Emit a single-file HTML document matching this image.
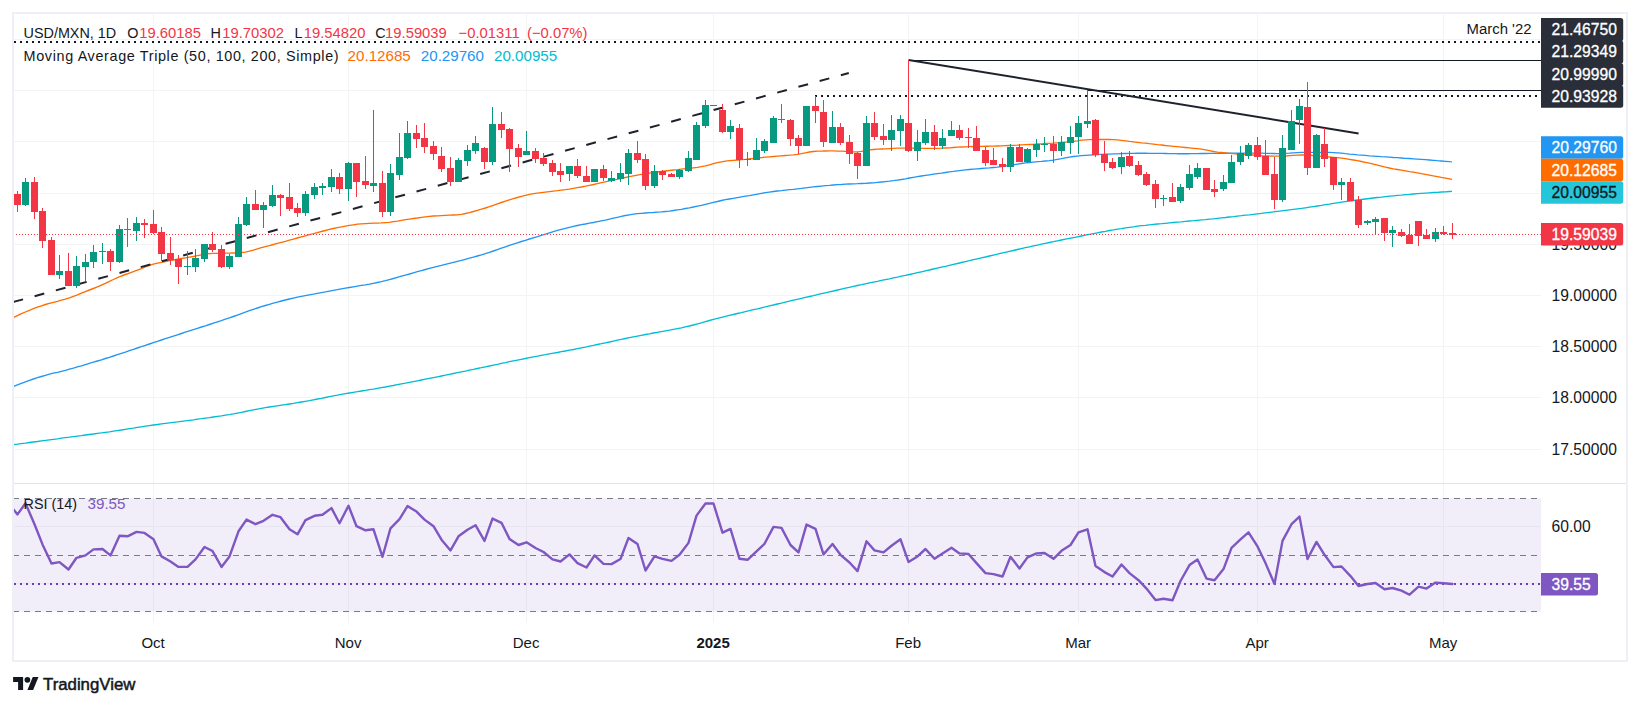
<!DOCTYPE html>
<html><head><meta charset="utf-8"><title>USD/MXN chart</title>
<style>
html,body{margin:0;padding:0;background:#fff;}
body{width:1640px;height:707px;overflow:hidden;}
svg{display:block;font-family:"Liberation Sans", "DejaVu Sans", sans-serif;}
</style></head><body>
<svg width="1640" height="707" viewBox="0 0 1640 707">
<g shape-rendering="crispEdges" stroke="#F3F5F5" stroke-width="1">
<line x1="153.5" y1="13" x2="153.5" y2="483"/>
<line x1="153.5" y1="484" x2="153.5" y2="623"/>
<line x1="348.5" y1="13" x2="348.5" y2="483"/>
<line x1="348.5" y1="484" x2="348.5" y2="623"/>
<line x1="526.5" y1="13" x2="526.5" y2="483"/>
<line x1="526.5" y1="484" x2="526.5" y2="623"/>
<line x1="713.5" y1="13" x2="713.5" y2="483"/>
<line x1="713.5" y1="484" x2="713.5" y2="623"/>
<line x1="908.5" y1="13" x2="908.5" y2="483"/>
<line x1="908.5" y1="484" x2="908.5" y2="623"/>
<line x1="1078.5" y1="13" x2="1078.5" y2="483"/>
<line x1="1078.5" y1="484" x2="1078.5" y2="623"/>
<line x1="1257.5" y1="13" x2="1257.5" y2="483"/>
<line x1="1257.5" y1="484" x2="1257.5" y2="623"/>
<line x1="1443.5" y1="13" x2="1443.5" y2="483"/>
<line x1="1443.5" y1="484" x2="1443.5" y2="623"/>
<line x1="13" y1="39.5" x2="1541" y2="39.5"/>
<line x1="13" y1="90.5" x2="1541" y2="90.5"/>
<line x1="13" y1="141.5" x2="1541" y2="141.5"/>
<line x1="13" y1="193.5" x2="1541" y2="193.5"/>
<line x1="13" y1="244.5" x2="1541" y2="244.5"/>
<line x1="13" y1="295.5" x2="1541" y2="295.5"/>
<line x1="13" y1="346.5" x2="1541" y2="346.5"/>
<line x1="13" y1="397.5" x2="1541" y2="397.5"/>
<line x1="13" y1="449.5" x2="1541" y2="449.5"/>
<line x1="13" y1="526.5" x2="1541" y2="526.5"/>
<line x1="13" y1="583.5" x2="1541" y2="583.5"/>
</g>
<rect x="13" y="498.5" width="1528" height="113" fill="#7E57C2" fill-opacity="0.1"/>
<g stroke="#787B86" stroke-width="1" stroke-dasharray="6,5" shape-rendering="crispEdges">
<line x1="13" y1="498.5" x2="1541" y2="498.5"/>
<line x1="13" y1="555.5" x2="1541" y2="555.5"/>
<line x1="13" y1="611.5" x2="1541" y2="611.5"/>
</g>
<line x1="14" y1="483.5" x2="1626" y2="483.5" stroke="#E0E3EB" stroke-width="1" shape-rendering="crispEdges"/>
<rect x="13" y="13" width="1614" height="648" fill="none" stroke="#EEF0F5" stroke-width="2" shape-rendering="crispEdges"/>
<defs><clipPath id="cp"><rect x="14" y="14" width="1527" height="469"/></clipPath><clipPath id="cr"><rect x="14" y="484" width="1527" height="139"/></clipPath></defs>
<g clip-path="url(#cp)">
<line x1="14" y1="42" x2="1541" y2="42" stroke="#131722" stroke-width="2" stroke-dasharray="2,4"/>
<line x1="815" y1="96" x2="1541" y2="96" stroke="#131722" stroke-width="2" stroke-dasharray="2,4"/>
<line x1="908.5" y1="60.5" x2="1541" y2="60.5" stroke="#131722" stroke-width="1" shape-rendering="crispEdges"/>
<line x1="1087.5" y1="90.5" x2="1541" y2="90.5" stroke="#131722" stroke-width="1" shape-rendering="crispEdges"/>
<path d="M13.4 444.7 L17.4 444.2 L21.4 443.6 L25.4 443.1 L29.4 442.5 L33.4 442.0 L37.4 441.5 L41.4 440.9 L45.4 440.4 L49.4 439.8 L53.4 439.3 L57.4 438.8 L61.4 438.2 L65.4 437.7 L69.4 437.2 L73.4 436.6 L77.4 436.1 L81.4 435.6 L85.4 435.0 L89.4 434.5 L93.4 434.0 L97.4 433.4 L101.4 432.9 L105.4 432.3 L109.4 431.8 L113.4 431.2 L117.4 430.6 L121.4 430.0 L125.4 429.3 L129.4 428.7 L133.4 428.1 L137.4 427.4 L141.4 426.8 L145.4 426.2 L149.4 425.6 L153.4 425.0 L157.4 424.5 L161.4 423.9 L165.4 423.4 L169.4 422.9 L173.4 422.4 L177.4 421.9 L181.4 421.3 L185.4 420.8 L189.4 420.3 L193.4 419.8 L197.4 419.2 L201.4 418.7 L205.4 418.1 L209.4 417.6 L213.4 417.0 L217.4 416.4 L221.4 415.9 L225.4 415.2 L229.4 414.6 L233.4 413.9 L237.4 413.1 L241.4 412.4 L245.4 411.5 L249.4 410.7 L253.4 409.9 L257.4 409.1 L261.4 408.4 L265.4 407.7 L269.4 407.0 L273.4 406.4 L277.4 405.8 L281.4 405.2 L285.4 404.6 L289.4 404.0 L293.4 403.4 L297.4 402.7 L301.4 402.0 L305.4 401.3 L309.4 400.6 L313.4 399.8 L317.4 399.0 L321.4 398.3 L325.4 397.5 L329.4 396.7 L333.4 395.9 L337.4 395.2 L341.4 394.4 L345.4 393.7 L349.4 393.0 L353.4 392.3 L357.4 391.7 L361.4 391.0 L365.4 390.4 L369.4 389.7 L373.4 389.1 L377.4 388.4 L381.4 387.7 L385.4 387.0 L389.4 386.2 L393.4 385.5 L397.4 384.7 L401.4 383.9 L405.4 383.2 L409.4 382.4 L413.4 381.6 L417.4 380.8 L421.4 380.0 L425.4 379.2 L429.4 378.4 L433.4 377.6 L437.4 376.8 L441.4 376.0 L445.4 375.2 L449.4 374.3 L453.4 373.5 L457.4 372.7 L461.4 371.9 L465.4 371.1 L469.4 370.2 L473.4 369.4 L477.4 368.5 L481.4 367.7 L485.4 366.8 L489.4 366.0 L493.4 365.1 L497.4 364.3 L501.4 363.4 L505.4 362.6 L509.4 361.7 L513.4 360.9 L517.4 360.1 L521.4 359.3 L525.4 358.5 L529.4 357.7 L533.4 356.9 L537.4 356.2 L541.4 355.4 L545.4 354.7 L549.4 353.9 L553.4 353.2 L557.4 352.5 L561.4 351.7 L565.4 351.0 L569.4 350.2 L573.4 349.5 L577.4 348.7 L581.4 347.9 L585.4 347.1 L589.4 346.2 L593.4 345.4 L597.4 344.5 L601.4 343.7 L605.4 342.8 L609.4 342.0 L613.4 341.1 L617.4 340.2 L621.4 339.4 L625.4 338.5 L629.4 337.7 L633.4 336.9 L637.4 336.1 L641.4 335.3 L645.4 334.5 L649.4 333.8 L653.4 333.0 L657.4 332.3 L661.4 331.6 L665.4 330.9 L669.4 330.2 L673.4 329.4 L677.4 328.6 L681.4 327.8 L685.4 326.9 L689.4 326.0 L693.4 325.0 L697.4 323.9 L701.4 322.8 L705.4 321.6 L709.4 320.5 L713.4 319.4 L717.4 318.4 L721.4 317.4 L725.4 316.4 L729.4 315.4 L733.4 314.5 L737.4 313.5 L741.4 312.6 L745.4 311.6 L749.4 310.7 L753.4 309.7 L757.4 308.8 L761.4 307.8 L765.4 306.9 L769.4 305.9 L773.4 305.0 L777.4 304.0 L781.4 303.1 L785.4 302.1 L789.4 301.2 L793.4 300.2 L797.4 299.3 L801.4 298.4 L805.4 297.4 L809.4 296.5 L813.4 295.6 L817.4 294.6 L821.4 293.7 L825.4 292.8 L829.4 291.9 L833.4 291.0 L837.4 290.0 L841.4 289.1 L845.4 288.2 L849.4 287.3 L853.4 286.4 L857.4 285.5 L861.4 284.7 L865.4 283.8 L869.4 282.9 L873.4 282.1 L877.4 281.3 L881.4 280.4 L885.4 279.6 L889.4 278.8 L893.4 277.9 L897.4 277.1 L901.4 276.2 L905.4 275.4 L909.4 274.5 L913.4 273.6 L917.4 272.7 L921.4 271.8 L925.4 270.9 L929.4 270.0 L933.4 269.0 L937.4 268.1 L941.4 267.2 L945.4 266.3 L949.4 265.3 L953.4 264.4 L957.4 263.5 L961.4 262.5 L965.4 261.6 L969.4 260.7 L973.4 259.7 L977.4 258.8 L981.4 257.9 L985.4 257.0 L989.4 256.0 L993.4 255.1 L997.4 254.2 L1001.4 253.2 L1005.4 252.3 L1009.4 251.4 L1013.4 250.5 L1017.4 249.5 L1021.4 248.6 L1025.4 247.7 L1029.4 246.8 L1033.4 245.9 L1037.4 245.1 L1041.4 244.2 L1045.4 243.3 L1049.4 242.5 L1053.4 241.7 L1057.4 240.8 L1061.4 240.0 L1065.4 239.2 L1069.4 238.4 L1073.4 237.6 L1077.4 236.8 L1081.4 236.0 L1085.4 235.2 L1089.4 234.4 L1093.4 233.6 L1097.4 232.8 L1101.4 232.0 L1105.4 231.3 L1109.4 230.5 L1113.4 229.9 L1117.4 229.2 L1121.4 228.6 L1125.4 227.9 L1129.4 227.3 L1133.4 226.8 L1137.4 226.2 L1141.4 225.7 L1145.4 225.3 L1149.4 224.8 L1153.4 224.4 L1157.4 224.0 L1161.4 223.7 L1165.4 223.3 L1169.4 222.9 L1173.4 222.5 L1177.4 222.1 L1181.4 221.8 L1185.4 221.4 L1189.4 221.0 L1193.4 220.7 L1197.4 220.3 L1201.4 219.9 L1205.4 219.6 L1209.4 219.2 L1213.4 218.8 L1217.4 218.3 L1221.4 217.9 L1225.4 217.5 L1229.4 217.0 L1233.4 216.6 L1237.4 216.1 L1241.4 215.7 L1245.4 215.2 L1249.4 214.8 L1253.4 214.3 L1257.4 213.8 L1261.4 213.4 L1265.4 212.9 L1269.4 212.4 L1273.4 211.9 L1277.4 211.4 L1281.4 210.9 L1285.4 210.4 L1289.4 209.9 L1293.4 209.4 L1297.4 208.9 L1301.4 208.4 L1305.4 207.8 L1309.4 207.2 L1313.4 206.6 L1317.4 206.0 L1321.4 205.4 L1325.4 204.7 L1329.4 204.1 L1333.4 203.4 L1337.4 202.8 L1341.4 202.2 L1345.4 201.6 L1349.4 201.0 L1353.4 200.5 L1357.4 200.0 L1361.4 199.5 L1365.4 199.0 L1369.4 198.5 L1373.4 198.0 L1377.4 197.5 L1381.4 197.1 L1385.4 196.6 L1389.4 196.2 L1393.4 195.8 L1397.4 195.4 L1401.4 195.1 L1405.4 194.7 L1409.4 194.4 L1413.4 194.0 L1417.4 193.7 L1421.4 193.4 L1425.4 193.1 L1429.4 192.8 L1433.4 192.5 L1437.4 192.3 L1441.4 192.0 L1445.4 191.8 L1449.4 191.5 L1452.0 191.4" fill="none" stroke="#00BCD4" stroke-width="1.35" stroke-linejoin="round"/>
<path d="M13.4 386.5 L17.4 384.9 L21.4 383.3 L25.4 381.8 L29.4 380.4 L33.4 379.0 L37.4 377.7 L41.4 376.5 L45.4 375.3 L49.4 374.2 L53.4 373.2 L57.4 372.3 L61.4 371.3 L65.4 370.3 L69.4 369.2 L73.4 368.1 L77.4 366.9 L81.4 365.8 L85.4 364.6 L89.4 363.4 L93.4 362.2 L97.4 361.0 L101.4 359.8 L105.4 358.5 L109.4 357.3 L113.4 356.0 L117.4 354.7 L121.4 353.4 L125.4 352.1 L129.4 350.7 L133.4 349.4 L137.4 348.0 L141.4 346.7 L145.4 345.3 L149.4 344.0 L153.4 342.7 L157.4 341.4 L161.4 340.0 L165.4 338.7 L169.4 337.4 L173.4 336.1 L177.4 334.8 L181.4 333.5 L185.4 332.2 L189.4 330.9 L193.4 329.6 L197.4 328.3 L201.4 327.0 L205.4 325.8 L209.4 324.5 L213.4 323.2 L217.4 321.9 L221.4 320.6 L225.4 319.2 L229.4 317.9 L233.4 316.5 L237.4 315.1 L241.4 313.6 L245.4 312.2 L249.4 310.7 L253.4 309.3 L257.4 308.0 L261.4 306.7 L265.4 305.5 L269.4 304.3 L273.4 303.2 L277.4 302.1 L281.4 301.0 L285.4 300.0 L289.4 299.0 L293.4 298.1 L297.4 297.2 L301.4 296.4 L305.4 295.6 L309.4 294.8 L313.4 294.1 L317.4 293.3 L321.4 292.6 L325.4 291.9 L329.4 291.1 L333.4 290.4 L337.4 289.7 L341.4 288.9 L345.4 288.2 L349.4 287.5 L353.4 286.8 L357.4 286.1 L361.4 285.4 L365.4 284.8 L369.4 284.1 L373.4 283.3 L377.4 282.5 L381.4 281.7 L385.4 280.7 L389.4 279.6 L393.4 278.5 L397.4 277.3 L401.4 276.2 L405.4 275.1 L409.4 274.0 L413.4 272.8 L417.4 271.7 L421.4 270.6 L425.4 269.5 L429.4 268.4 L433.4 267.3 L437.4 266.3 L441.4 265.4 L445.4 264.4 L449.4 263.4 L453.4 262.4 L457.4 261.4 L461.4 260.4 L465.4 259.3 L469.4 258.2 L473.4 257.2 L477.4 256.0 L481.4 254.9 L485.4 253.7 L489.4 252.4 L493.4 251.0 L497.4 249.6 L501.4 248.2 L505.4 246.8 L509.4 245.4 L513.4 244.1 L517.4 242.8 L521.4 241.5 L525.4 240.3 L529.4 239.0 L533.4 237.8 L537.4 236.6 L541.4 235.3 L545.4 234.1 L549.4 232.8 L553.4 231.6 L557.4 230.4 L561.4 229.3 L565.4 228.3 L569.4 227.3 L573.4 226.4 L577.4 225.5 L581.4 224.7 L585.4 224.0 L589.4 223.2 L593.4 222.5 L597.4 221.7 L601.4 220.9 L605.4 220.1 L609.4 219.2 L613.4 218.2 L617.4 217.3 L621.4 216.4 L625.4 215.5 L629.4 214.8 L633.4 214.2 L637.4 213.7 L641.4 213.3 L645.4 213.0 L649.4 212.7 L653.4 212.5 L657.4 212.2 L661.4 211.9 L665.4 211.5 L669.4 211.1 L673.4 210.5 L677.4 209.9 L681.4 209.3 L685.4 208.5 L689.4 207.8 L693.4 207.0 L697.4 206.2 L701.4 205.4 L705.4 204.4 L709.4 203.4 L713.4 202.4 L717.4 201.5 L721.4 200.5 L725.4 199.7 L729.4 199.0 L733.4 198.3 L737.4 197.6 L741.4 196.9 L745.4 196.2 L749.4 195.6 L753.4 194.8 L757.4 194.1 L761.4 193.4 L765.4 192.7 L769.4 192.1 L773.4 191.5 L777.4 191.0 L781.4 190.6 L785.4 190.1 L789.4 189.7 L793.4 189.3 L797.4 188.8 L801.4 188.4 L805.4 187.9 L809.4 187.4 L813.4 186.9 L817.4 186.5 L821.4 186.1 L825.4 185.7 L829.4 185.4 L833.4 185.0 L837.4 184.7 L841.4 184.5 L845.4 184.2 L849.4 184.0 L853.4 183.8 L857.4 183.7 L861.4 183.5 L865.4 183.3 L869.4 183.0 L873.4 182.8 L877.4 182.4 L881.4 182.0 L885.4 181.6 L889.4 181.2 L893.4 180.7 L897.4 180.1 L901.4 179.5 L905.4 178.8 L909.4 178.0 L913.4 177.3 L917.4 176.6 L921.4 176.0 L925.4 175.4 L929.4 174.8 L933.4 174.2 L937.4 173.6 L941.4 173.1 L945.4 172.5 L949.4 171.9 L953.4 171.4 L957.4 170.8 L961.4 170.3 L965.4 169.9 L969.4 169.5 L973.4 169.1 L977.4 168.8 L981.4 168.5 L985.4 168.2 L989.4 167.9 L993.4 167.5 L997.4 167.1 L1001.4 166.6 L1005.4 166.1 L1009.4 165.4 L1013.4 164.8 L1017.4 164.1 L1021.4 163.5 L1025.4 162.9 L1029.4 162.5 L1033.4 162.1 L1037.4 161.7 L1041.4 161.4 L1045.4 161.0 L1049.4 160.6 L1053.4 160.1 L1057.4 159.4 L1061.4 158.7 L1065.4 157.9 L1069.4 157.2 L1073.4 156.5 L1077.4 156.1 L1081.4 155.7 L1085.4 155.4 L1089.4 155.1 L1093.4 154.8 L1097.4 154.6 L1101.4 154.4 L1105.4 154.2 L1109.4 154.1 L1113.4 153.9 L1117.4 153.8 L1121.4 153.6 L1125.4 153.5 L1129.4 153.4 L1133.4 153.3 L1137.4 153.2 L1141.4 153.2 L1145.4 153.2 L1149.4 153.3 L1153.4 153.3 L1157.4 153.4 L1161.4 153.4 L1165.4 153.5 L1169.4 153.6 L1173.4 153.6 L1177.4 153.7 L1181.4 153.7 L1185.4 153.7 L1189.4 153.7 L1193.4 153.6 L1197.4 153.6 L1201.4 153.5 L1205.4 153.5 L1209.4 153.4 L1213.4 153.3 L1217.4 153.3 L1221.4 153.2 L1225.4 153.2 L1229.4 153.2 L1233.4 153.2 L1237.4 153.1 L1241.4 153.1 L1245.4 153.1 L1249.4 153.1 L1253.4 153.1 L1257.4 153.1 L1261.4 153.2 L1265.4 153.3 L1269.4 153.4 L1273.4 153.5 L1277.4 153.6 L1281.4 153.6 L1285.4 153.4 L1289.4 153.2 L1293.4 152.9 L1297.4 152.6 L1301.4 152.4 L1305.4 152.4 L1309.4 152.4 L1313.4 152.4 L1317.4 152.4 L1321.4 152.4 L1325.4 152.4 L1329.4 152.4 L1333.4 152.6 L1337.4 152.9 L1341.4 153.2 L1345.4 153.7 L1349.4 154.1 L1353.4 154.4 L1357.4 154.8 L1361.4 155.1 L1365.4 155.4 L1369.4 155.8 L1373.4 156.1 L1377.4 156.4 L1381.4 156.7 L1385.4 156.9 L1389.4 157.2 L1393.4 157.5 L1397.4 157.7 L1401.4 158.0 L1405.4 158.3 L1409.4 158.5 L1413.4 158.8 L1417.4 159.1 L1421.4 159.4 L1425.4 159.7 L1429.4 160.0 L1433.4 160.3 L1437.4 160.7 L1441.4 161.0 L1445.4 161.3 L1449.4 161.7 L1452.0 161.9" fill="none" stroke="#2196F3" stroke-width="1.35" stroke-linejoin="round"/>
<path d="M13.4 317.5 L17.4 315.6 L21.4 313.7 L25.4 312.0 L29.4 310.3 L33.4 308.7 L37.4 307.2 L41.4 305.8 L45.4 304.5 L49.4 303.4 L53.4 302.3 L57.4 301.3 L61.4 300.2 L65.4 299.1 L69.4 297.8 L73.4 296.4 L77.4 294.9 L81.4 293.2 L85.4 291.6 L89.4 290.0 L93.4 288.5 L97.4 286.9 L101.4 285.1 L105.4 283.3 L109.4 281.4 L113.4 279.5 L117.4 277.7 L121.4 276.0 L125.4 274.5 L129.4 273.1 L133.4 271.7 L137.4 270.2 L141.4 268.7 L145.4 267.0 L149.4 265.4 L153.4 264.1 L157.4 263.1 L161.4 262.3 L165.4 261.5 L169.4 260.7 L173.4 260.0 L177.4 259.2 L181.4 258.5 L185.4 257.8 L189.4 257.1 L193.4 256.5 L197.4 255.7 L201.4 254.9 L205.4 254.1 L209.4 253.6 L213.4 253.4 L217.4 253.3 L221.4 253.2 L225.4 253.2 L229.4 253.1 L233.4 253.0 L237.4 252.9 L241.4 252.7 L245.4 252.1 L249.4 251.2 L253.4 250.1 L257.4 248.9 L261.4 247.7 L265.4 246.6 L269.4 245.6 L273.4 244.5 L277.4 243.4 L281.4 242.3 L285.4 241.3 L289.4 240.2 L293.4 239.1 L297.4 238.0 L301.4 236.9 L305.4 235.8 L309.4 234.7 L313.4 233.7 L317.4 232.6 L321.4 231.5 L325.4 230.5 L329.4 229.4 L333.4 228.5 L337.4 227.6 L341.4 226.9 L345.4 226.1 L349.4 225.4 L353.4 224.8 L357.4 224.2 L361.4 223.8 L365.4 223.6 L369.4 223.4 L373.4 223.2 L377.4 223.1 L381.4 222.9 L385.4 222.6 L389.4 222.3 L393.4 221.7 L397.4 221.1 L401.4 220.4 L405.4 219.7 L409.4 219.1 L413.4 218.5 L417.4 218.0 L421.4 217.4 L425.4 216.9 L429.4 216.4 L433.4 216.0 L437.4 215.8 L441.4 215.6 L445.4 215.4 L449.4 215.2 L453.4 215.0 L457.4 214.8 L461.4 214.3 L465.4 213.5 L469.4 212.6 L473.4 211.5 L477.4 210.3 L481.4 209.2 L485.4 208.0 L489.4 206.7 L493.4 205.3 L497.4 203.9 L501.4 202.5 L505.4 201.2 L509.4 199.9 L513.4 198.7 L517.4 197.5 L521.4 196.3 L525.4 195.3 L529.4 194.4 L533.4 193.7 L537.4 193.1 L541.4 192.6 L545.4 192.1 L549.4 191.6 L553.4 191.1 L557.4 190.7 L561.4 190.2 L565.4 189.7 L569.4 189.1 L573.4 188.4 L577.4 187.7 L581.4 187.0 L585.4 186.2 L589.4 185.3 L593.4 184.5 L597.4 183.6 L601.4 182.7 L605.4 181.8 L609.4 180.9 L613.4 180.1 L617.4 179.3 L621.4 178.4 L625.4 177.5 L629.4 176.7 L633.4 175.9 L637.4 175.1 L641.4 174.4 L645.4 173.7 L649.4 173.1 L653.4 172.5 L657.4 172.0 L661.4 171.5 L665.4 171.0 L669.4 170.5 L673.4 170.0 L677.4 169.6 L681.4 169.1 L685.4 168.7 L689.4 168.3 L693.4 167.8 L697.4 167.3 L701.4 166.7 L705.4 165.8 L709.4 164.8 L713.4 163.7 L717.4 162.7 L721.4 161.8 L725.4 161.2 L729.4 160.7 L733.4 160.3 L737.4 160.0 L741.4 159.6 L745.4 159.3 L749.4 158.9 L753.4 158.5 L757.4 158.0 L761.4 157.6 L765.4 157.2 L769.4 156.8 L773.4 156.5 L777.4 156.1 L781.4 155.8 L785.4 155.5 L789.4 155.2 L793.4 154.8 L797.4 154.3 L801.4 153.6 L805.4 152.8 L809.4 152.0 L813.4 151.5 L817.4 151.2 L821.4 151.1 L825.4 151.0 L829.4 150.9 L833.4 150.9 L837.4 151.1 L841.4 151.2 L845.4 151.4 L849.4 151.6 L853.4 151.8 L857.4 151.8 L861.4 151.4 L865.4 150.6 L869.4 149.9 L873.4 149.5 L877.4 149.2 L881.4 149.0 L885.4 148.8 L889.4 148.6 L893.4 148.4 L897.4 148.2 L901.4 148.1 L905.4 148.1 L909.4 148.1 L913.4 148.2 L917.4 148.2 L921.4 148.3 L925.4 148.4 L929.4 148.4 L933.4 148.4 L937.4 148.3 L941.4 148.2 L945.4 148.0 L949.4 147.8 L953.4 147.5 L957.4 147.2 L961.4 147.0 L965.4 146.8 L969.4 146.6 L973.4 146.5 L977.4 146.4 L981.4 146.3 L985.4 146.2 L989.4 146.2 L993.4 146.1 L997.4 146.0 L1001.4 145.9 L1005.4 145.7 L1009.4 145.5 L1013.4 145.4 L1017.4 145.2 L1021.4 144.9 L1025.4 144.7 L1029.4 144.5 L1033.4 144.3 L1037.4 144.0 L1041.4 143.8 L1045.4 143.5 L1049.4 143.3 L1053.4 143.1 L1057.4 142.8 L1061.4 142.5 L1065.4 142.2 L1069.4 141.9 L1073.4 141.3 L1077.4 140.8 L1081.4 140.2 L1085.4 139.9 L1089.4 139.6 L1093.4 139.5 L1097.4 139.5 L1101.4 139.5 L1105.4 139.5 L1109.4 139.5 L1113.4 139.6 L1117.4 139.9 L1121.4 140.4 L1125.4 140.9 L1129.4 141.4 L1133.4 141.8 L1137.4 142.3 L1141.4 142.8 L1145.4 143.2 L1149.4 143.7 L1153.4 144.1 L1157.4 144.6 L1161.4 145.0 L1165.4 145.5 L1169.4 145.9 L1173.4 146.3 L1177.4 146.7 L1181.4 147.1 L1185.4 147.5 L1189.4 147.9 L1193.4 148.3 L1197.4 148.7 L1201.4 149.2 L1205.4 149.9 L1209.4 150.7 L1213.4 151.5 L1217.4 152.1 L1221.4 152.5 L1225.4 152.9 L1229.4 153.3 L1233.4 153.7 L1237.4 154.0 L1241.4 154.3 L1245.4 154.6 L1249.4 154.8 L1253.4 155.0 L1257.4 155.3 L1261.4 155.6 L1265.4 155.8 L1269.4 156.0 L1273.4 156.1 L1277.4 156.2 L1281.4 156.1 L1285.4 156.0 L1289.4 155.7 L1293.4 155.4 L1297.4 155.2 L1301.4 155.0 L1305.4 155.0 L1309.4 155.2 L1313.4 155.5 L1317.4 155.8 L1321.4 156.3 L1325.4 156.7 L1329.4 157.0 L1333.4 157.3 L1337.4 157.7 L1341.4 158.1 L1345.4 158.6 L1349.4 159.3 L1353.4 160.0 L1357.4 160.7 L1361.4 161.5 L1365.4 162.3 L1369.4 163.2 L1373.4 164.1 L1377.4 165.1 L1381.4 166.1 L1385.4 167.1 L1389.4 168.0 L1393.4 168.8 L1397.4 169.5 L1401.4 170.2 L1405.4 170.9 L1409.4 171.6 L1413.4 172.2 L1417.4 172.9 L1421.4 173.7 L1425.4 174.4 L1429.4 175.1 L1433.4 175.9 L1437.4 176.6 L1441.4 177.4 L1445.4 178.1 L1449.4 178.9 L1452.0 179.4" fill="none" stroke="#FF6D00" stroke-width="1.35" stroke-linejoin="round"/>
<line x1="13.4" y1="302.0" x2="848.8" y2="73.0" stroke="#1E222D" stroke-width="2" stroke-dasharray="10,12"/>
<line x1="908.5" y1="60" x2="1358.6" y2="133.4" stroke="#1E222D" stroke-width="2"/>
<g shape-rendering="crispEdges">
<rect x="17" y="191" width="1" height="21" fill="#F23645"/>
<rect x="14" y="194" width="7" height="11" fill="#F23645"/>
<rect x="25" y="178" width="1" height="28" fill="#089981"/>
<rect x="22" y="182" width="7" height="23" fill="#089981"/>
<rect x="34" y="177" width="1" height="42" fill="#F23645"/>
<rect x="31" y="182" width="7" height="30" fill="#F23645"/>
<rect x="42" y="208" width="1" height="40" fill="#F23645"/>
<rect x="39" y="211" width="7" height="30" fill="#F23645"/>
<rect x="51" y="237" width="1" height="38" fill="#F23645"/>
<rect x="48" y="240" width="7" height="35" fill="#F23645"/>
<rect x="59" y="255" width="1" height="24" fill="#089981"/>
<rect x="56" y="271" width="7" height="4" fill="#089981"/>
<rect x="68" y="253" width="1" height="33" fill="#F23645"/>
<rect x="65" y="271" width="7" height="15" fill="#F23645"/>
<rect x="76" y="256" width="1" height="32" fill="#089981"/>
<rect x="73" y="266" width="7" height="20" fill="#089981"/>
<rect x="85" y="254" width="1" height="27" fill="#089981"/>
<rect x="82" y="262" width="7" height="5" fill="#089981"/>
<rect x="93" y="245" width="1" height="23" fill="#089981"/>
<rect x="90" y="252" width="7" height="10" fill="#089981"/>
<rect x="102" y="243" width="1" height="21" fill="#089981"/>
<rect x="99" y="251" width="7" height="1" fill="#089981"/>
<rect x="110" y="249" width="1" height="22" fill="#F23645"/>
<rect x="107" y="251" width="7" height="11" fill="#F23645"/>
<rect x="119" y="225" width="1" height="38" fill="#089981"/>
<rect x="116" y="229" width="7" height="33" fill="#089981"/>
<rect x="127" y="218" width="1" height="29" fill="#F23645"/>
<rect x="124" y="229" width="7" height="1" fill="#F23645"/>
<rect x="136" y="217" width="1" height="24" fill="#089981"/>
<rect x="133" y="223" width="7" height="8" fill="#089981"/>
<rect x="144" y="219" width="1" height="19" fill="#F23645"/>
<rect x="141" y="223" width="7" height="2" fill="#F23645"/>
<rect x="153" y="210" width="1" height="24" fill="#F23645"/>
<rect x="150" y="224" width="7" height="9" fill="#F23645"/>
<rect x="161" y="227" width="1" height="34" fill="#F23645"/>
<rect x="158" y="232" width="7" height="22" fill="#F23645"/>
<rect x="170" y="237" width="1" height="28" fill="#F23645"/>
<rect x="167" y="253" width="7" height="7" fill="#F23645"/>
<rect x="178" y="255" width="1" height="29" fill="#F23645"/>
<rect x="175" y="259" width="7" height="8" fill="#F23645"/>
<rect x="187" y="251" width="1" height="24" fill="#089981"/>
<rect x="184" y="266" width="7" height="1" fill="#089981"/>
<rect x="195" y="249" width="1" height="23" fill="#089981"/>
<rect x="192" y="258" width="7" height="9" fill="#089981"/>
<rect x="204" y="244" width="1" height="18" fill="#089981"/>
<rect x="201" y="244" width="7" height="15" fill="#089981"/>
<rect x="212" y="232" width="1" height="20" fill="#F23645"/>
<rect x="209" y="244" width="7" height="6" fill="#F23645"/>
<rect x="221" y="245" width="1" height="23" fill="#F23645"/>
<rect x="218" y="249" width="7" height="18" fill="#F23645"/>
<rect x="229" y="254" width="1" height="15" fill="#089981"/>
<rect x="226" y="256" width="7" height="11" fill="#089981"/>
<rect x="238" y="217" width="1" height="40" fill="#089981"/>
<rect x="235" y="224" width="7" height="33" fill="#089981"/>
<rect x="246" y="197" width="1" height="29" fill="#089981"/>
<rect x="243" y="204" width="7" height="21" fill="#089981"/>
<rect x="255" y="190" width="1" height="20" fill="#F23645"/>
<rect x="252" y="204" width="7" height="6" fill="#F23645"/>
<rect x="263" y="202" width="1" height="26" fill="#089981"/>
<rect x="260" y="205" width="7" height="5" fill="#089981"/>
<rect x="272" y="185" width="1" height="22" fill="#089981"/>
<rect x="269" y="195" width="7" height="11" fill="#089981"/>
<rect x="280" y="194" width="1" height="22" fill="#F23645"/>
<rect x="277" y="195" width="7" height="3" fill="#F23645"/>
<rect x="289" y="183" width="1" height="28" fill="#F23645"/>
<rect x="286" y="197" width="7" height="12" fill="#F23645"/>
<rect x="297" y="203" width="1" height="14" fill="#F23645"/>
<rect x="294" y="208" width="7" height="5" fill="#F23645"/>
<rect x="305" y="191" width="1" height="25" fill="#089981"/>
<rect x="302" y="194" width="7" height="19" fill="#089981"/>
<rect x="314" y="183" width="1" height="16" fill="#089981"/>
<rect x="311" y="187" width="7" height="8" fill="#089981"/>
<rect x="322" y="183" width="1" height="12" fill="#089981"/>
<rect x="319" y="186" width="7" height="2" fill="#089981"/>
<rect x="331" y="169" width="1" height="23" fill="#089981"/>
<rect x="328" y="177" width="7" height="10" fill="#089981"/>
<rect x="339" y="173" width="1" height="21" fill="#F23645"/>
<rect x="336" y="177" width="7" height="12" fill="#F23645"/>
<rect x="348" y="162" width="1" height="39" fill="#089981"/>
<rect x="345" y="163" width="7" height="26" fill="#089981"/>
<rect x="356" y="163" width="1" height="34" fill="#F23645"/>
<rect x="353" y="163" width="7" height="19" fill="#F23645"/>
<rect x="365" y="156" width="1" height="33" fill="#F23645"/>
<rect x="362" y="181" width="7" height="4" fill="#F23645"/>
<rect x="373" y="110" width="1" height="82" fill="#089981"/>
<rect x="370" y="183" width="7" height="3" fill="#089981"/>
<rect x="382" y="171" width="1" height="46" fill="#F23645"/>
<rect x="379" y="183" width="7" height="29" fill="#F23645"/>
<rect x="390" y="164" width="1" height="52" fill="#089981"/>
<rect x="387" y="173" width="7" height="39" fill="#089981"/>
<rect x="399" y="133" width="1" height="47" fill="#089981"/>
<rect x="396" y="157" width="7" height="18" fill="#089981"/>
<rect x="407" y="121" width="1" height="38" fill="#089981"/>
<rect x="404" y="133" width="7" height="25" fill="#089981"/>
<rect x="416" y="125" width="1" height="23" fill="#F23645"/>
<rect x="413" y="133" width="7" height="6" fill="#F23645"/>
<rect x="424" y="123" width="1" height="30" fill="#F23645"/>
<rect x="421" y="138" width="7" height="9" fill="#F23645"/>
<rect x="433" y="141" width="1" height="19" fill="#F23645"/>
<rect x="430" y="146" width="7" height="8" fill="#F23645"/>
<rect x="441" y="147" width="1" height="25" fill="#F23645"/>
<rect x="438" y="156" width="7" height="13" fill="#F23645"/>
<rect x="450" y="157" width="1" height="29" fill="#F23645"/>
<rect x="447" y="168" width="7" height="14" fill="#F23645"/>
<rect x="458" y="158" width="1" height="24" fill="#089981"/>
<rect x="455" y="160" width="7" height="22" fill="#089981"/>
<rect x="467" y="145" width="1" height="21" fill="#089981"/>
<rect x="464" y="150" width="7" height="11" fill="#089981"/>
<rect x="475" y="136" width="1" height="18" fill="#089981"/>
<rect x="472" y="143" width="7" height="8" fill="#089981"/>
<rect x="484" y="147" width="1" height="22" fill="#F23645"/>
<rect x="481" y="148" width="7" height="14" fill="#F23645"/>
<rect x="492" y="107" width="1" height="58" fill="#089981"/>
<rect x="489" y="124" width="7" height="38" fill="#089981"/>
<rect x="501" y="112" width="1" height="26" fill="#F23645"/>
<rect x="498" y="124" width="7" height="6" fill="#F23645"/>
<rect x="509" y="128" width="1" height="44" fill="#F23645"/>
<rect x="506" y="129" width="7" height="20" fill="#F23645"/>
<rect x="518" y="144" width="1" height="23" fill="#F23645"/>
<rect x="515" y="148" width="7" height="9" fill="#F23645"/>
<rect x="526" y="131" width="1" height="24" fill="#089981"/>
<rect x="523" y="151" width="7" height="4" fill="#089981"/>
<rect x="535" y="148" width="1" height="15" fill="#F23645"/>
<rect x="532" y="151" width="7" height="8" fill="#F23645"/>
<rect x="543" y="153" width="1" height="13" fill="#F23645"/>
<rect x="540" y="158" width="7" height="6" fill="#F23645"/>
<rect x="552" y="160" width="1" height="16" fill="#F23645"/>
<rect x="549" y="163" width="7" height="9" fill="#F23645"/>
<rect x="560" y="163" width="1" height="19" fill="#F23645"/>
<rect x="557" y="171" width="7" height="4" fill="#F23645"/>
<rect x="569" y="166" width="1" height="15" fill="#089981"/>
<rect x="566" y="166" width="7" height="8" fill="#089981"/>
<rect x="577" y="159" width="1" height="19" fill="#F23645"/>
<rect x="574" y="166" width="7" height="10" fill="#F23645"/>
<rect x="586" y="166" width="1" height="16" fill="#F23645"/>
<rect x="583" y="176" width="7" height="6" fill="#F23645"/>
<rect x="594" y="169" width="1" height="13" fill="#089981"/>
<rect x="591" y="169" width="7" height="13" fill="#089981"/>
<rect x="603" y="165" width="1" height="16" fill="#F23645"/>
<rect x="600" y="169" width="7" height="9" fill="#F23645"/>
<rect x="611" y="171" width="1" height="11" fill="#089981"/>
<rect x="608" y="178" width="7" height="3" fill="#089981"/>
<rect x="620" y="163" width="1" height="19" fill="#089981"/>
<rect x="617" y="173" width="7" height="6" fill="#089981"/>
<rect x="628" y="149" width="1" height="36" fill="#089981"/>
<rect x="625" y="153" width="7" height="21" fill="#089981"/>
<rect x="637" y="141" width="1" height="22" fill="#F23645"/>
<rect x="634" y="153" width="7" height="7" fill="#F23645"/>
<rect x="645" y="154" width="1" height="36" fill="#F23645"/>
<rect x="642" y="159" width="7" height="27" fill="#F23645"/>
<rect x="654" y="165" width="1" height="23" fill="#089981"/>
<rect x="651" y="171" width="7" height="15" fill="#089981"/>
<rect x="662" y="170" width="1" height="10" fill="#F23645"/>
<rect x="659" y="171" width="7" height="4" fill="#F23645"/>
<rect x="671" y="173" width="1" height="4" fill="#F23645"/>
<rect x="668" y="174" width="7" height="3" fill="#F23645"/>
<rect x="679" y="169" width="1" height="10" fill="#089981"/>
<rect x="676" y="170" width="7" height="7" fill="#089981"/>
<rect x="688" y="151" width="1" height="21" fill="#089981"/>
<rect x="685" y="158" width="7" height="13" fill="#089981"/>
<rect x="696" y="122" width="1" height="38" fill="#089981"/>
<rect x="693" y="125" width="7" height="35" fill="#089981"/>
<rect x="705" y="100" width="1" height="28" fill="#089981"/>
<rect x="702" y="105" width="7" height="21" fill="#089981"/>
<rect x="713" y="105" width="1" height="1" fill="#089981"/>
<rect x="710" y="105" width="7" height="1" fill="#089981"/>
<rect x="722" y="104" width="1" height="29" fill="#F23645"/>
<rect x="719" y="110" width="7" height="22" fill="#F23645"/>
<rect x="730" y="120" width="1" height="19" fill="#089981"/>
<rect x="727" y="126" width="7" height="6" fill="#089981"/>
<rect x="739" y="124" width="1" height="44" fill="#F23645"/>
<rect x="736" y="128" width="7" height="32" fill="#F23645"/>
<rect x="747" y="152" width="1" height="14" fill="#F23645"/>
<rect x="744" y="159" width="7" height="1" fill="#F23645"/>
<rect x="756" y="138" width="1" height="22" fill="#089981"/>
<rect x="753" y="150" width="7" height="10" fill="#089981"/>
<rect x="764" y="139" width="1" height="14" fill="#089981"/>
<rect x="761" y="141" width="7" height="10" fill="#089981"/>
<rect x="773" y="116" width="1" height="27" fill="#089981"/>
<rect x="770" y="118" width="7" height="25" fill="#089981"/>
<rect x="781" y="104" width="1" height="19" fill="#F23645"/>
<rect x="778" y="119" width="7" height="1" fill="#F23645"/>
<rect x="790" y="119" width="1" height="27" fill="#F23645"/>
<rect x="787" y="120" width="7" height="19" fill="#F23645"/>
<rect x="798" y="135" width="1" height="19" fill="#F23645"/>
<rect x="795" y="138" width="7" height="8" fill="#F23645"/>
<rect x="806" y="106" width="1" height="40" fill="#089981"/>
<rect x="803" y="106" width="7" height="40" fill="#089981"/>
<rect x="815" y="96" width="1" height="27" fill="#F23645"/>
<rect x="812" y="106" width="7" height="5" fill="#F23645"/>
<rect x="823" y="100" width="1" height="47" fill="#F23645"/>
<rect x="820" y="112" width="7" height="30" fill="#F23645"/>
<rect x="832" y="111" width="1" height="32" fill="#089981"/>
<rect x="829" y="127" width="7" height="16" fill="#089981"/>
<rect x="840" y="123" width="1" height="22" fill="#F23645"/>
<rect x="837" y="127" width="7" height="16" fill="#F23645"/>
<rect x="849" y="135" width="1" height="29" fill="#F23645"/>
<rect x="846" y="142" width="7" height="12" fill="#F23645"/>
<rect x="857" y="152" width="1" height="27" fill="#F23645"/>
<rect x="854" y="153" width="7" height="13" fill="#F23645"/>
<rect x="866" y="116" width="1" height="50" fill="#089981"/>
<rect x="863" y="123" width="7" height="43" fill="#089981"/>
<rect x="874" y="112" width="1" height="28" fill="#F23645"/>
<rect x="871" y="123" width="7" height="14" fill="#F23645"/>
<rect x="883" y="124" width="1" height="21" fill="#F23645"/>
<rect x="880" y="136" width="7" height="4" fill="#F23645"/>
<rect x="891" y="115" width="1" height="36" fill="#089981"/>
<rect x="888" y="130" width="7" height="10" fill="#089981"/>
<rect x="900" y="115" width="1" height="31" fill="#089981"/>
<rect x="897" y="119" width="7" height="12" fill="#089981"/>
<rect x="908" y="60" width="1" height="92" fill="#F23645"/>
<rect x="905" y="123" width="7" height="28" fill="#F23645"/>
<rect x="917" y="130" width="1" height="31" fill="#089981"/>
<rect x="914" y="142" width="7" height="9" fill="#089981"/>
<rect x="925" y="119" width="1" height="26" fill="#089981"/>
<rect x="922" y="132" width="7" height="11" fill="#089981"/>
<rect x="934" y="125" width="1" height="25" fill="#F23645"/>
<rect x="931" y="132" width="7" height="14" fill="#F23645"/>
<rect x="942" y="129" width="1" height="20" fill="#089981"/>
<rect x="939" y="138" width="7" height="8" fill="#089981"/>
<rect x="951" y="121" width="1" height="15" fill="#089981"/>
<rect x="948" y="130" width="7" height="6" fill="#089981"/>
<rect x="959" y="125" width="1" height="15" fill="#F23645"/>
<rect x="956" y="130" width="7" height="8" fill="#F23645"/>
<rect x="968" y="128" width="1" height="20" fill="#F23645"/>
<rect x="965" y="137" width="7" height="1" fill="#F23645"/>
<rect x="976" y="126" width="1" height="25" fill="#F23645"/>
<rect x="973" y="138" width="7" height="13" fill="#F23645"/>
<rect x="985" y="147" width="1" height="19" fill="#F23645"/>
<rect x="982" y="150" width="7" height="13" fill="#F23645"/>
<rect x="993" y="148" width="1" height="17" fill="#F23645"/>
<rect x="990" y="160" width="7" height="5" fill="#F23645"/>
<rect x="1002" y="158" width="1" height="14" fill="#F23645"/>
<rect x="999" y="164" width="7" height="3" fill="#F23645"/>
<rect x="1010" y="144" width="1" height="28" fill="#089981"/>
<rect x="1007" y="147" width="7" height="20" fill="#089981"/>
<rect x="1019" y="144" width="1" height="18" fill="#F23645"/>
<rect x="1016" y="147" width="7" height="15" fill="#F23645"/>
<rect x="1027" y="148" width="1" height="15" fill="#089981"/>
<rect x="1024" y="149" width="7" height="13" fill="#089981"/>
<rect x="1036" y="139" width="1" height="18" fill="#089981"/>
<rect x="1033" y="144" width="7" height="6" fill="#089981"/>
<rect x="1044" y="137" width="1" height="15" fill="#089981"/>
<rect x="1041" y="144" width="7" height="1" fill="#089981"/>
<rect x="1053" y="136" width="1" height="27" fill="#F23645"/>
<rect x="1050" y="144" width="7" height="7" fill="#F23645"/>
<rect x="1061" y="136" width="1" height="20" fill="#089981"/>
<rect x="1058" y="142" width="7" height="9" fill="#089981"/>
<rect x="1070" y="126" width="1" height="28" fill="#089981"/>
<rect x="1067" y="137" width="7" height="6" fill="#089981"/>
<rect x="1078" y="116" width="1" height="38" fill="#089981"/>
<rect x="1075" y="123" width="7" height="14" fill="#089981"/>
<rect x="1087" y="90" width="1" height="38" fill="#089981"/>
<rect x="1084" y="121" width="7" height="3" fill="#089981"/>
<rect x="1095" y="119" width="1" height="38" fill="#F23645"/>
<rect x="1092" y="120" width="7" height="35" fill="#F23645"/>
<rect x="1104" y="141" width="1" height="30" fill="#F23645"/>
<rect x="1101" y="154" width="7" height="9" fill="#F23645"/>
<rect x="1112" y="158" width="1" height="11" fill="#F23645"/>
<rect x="1109" y="162" width="7" height="6" fill="#F23645"/>
<rect x="1121" y="152" width="1" height="22" fill="#089981"/>
<rect x="1118" y="157" width="7" height="10" fill="#089981"/>
<rect x="1129" y="151" width="1" height="16" fill="#F23645"/>
<rect x="1126" y="156" width="7" height="10" fill="#F23645"/>
<rect x="1138" y="161" width="1" height="15" fill="#F23645"/>
<rect x="1135" y="165" width="7" height="10" fill="#F23645"/>
<rect x="1146" y="172" width="1" height="14" fill="#F23645"/>
<rect x="1143" y="174" width="7" height="11" fill="#F23645"/>
<rect x="1155" y="180" width="1" height="28" fill="#F23645"/>
<rect x="1152" y="184" width="7" height="15" fill="#F23645"/>
<rect x="1163" y="195" width="1" height="11" fill="#089981"/>
<rect x="1160" y="198" width="7" height="1" fill="#089981"/>
<rect x="1172" y="183" width="1" height="19" fill="#F23645"/>
<rect x="1169" y="197" width="7" height="5" fill="#F23645"/>
<rect x="1180" y="184" width="1" height="19" fill="#089981"/>
<rect x="1177" y="187" width="7" height="14" fill="#089981"/>
<rect x="1189" y="165" width="1" height="25" fill="#089981"/>
<rect x="1186" y="174" width="7" height="14" fill="#089981"/>
<rect x="1197" y="163" width="1" height="16" fill="#089981"/>
<rect x="1194" y="168" width="7" height="9" fill="#089981"/>
<rect x="1206" y="168" width="1" height="22" fill="#F23645"/>
<rect x="1203" y="168" width="7" height="22" fill="#F23645"/>
<rect x="1214" y="180" width="1" height="17" fill="#F23645"/>
<rect x="1211" y="189" width="7" height="3" fill="#F23645"/>
<rect x="1223" y="175" width="1" height="16" fill="#089981"/>
<rect x="1220" y="182" width="7" height="7" fill="#089981"/>
<rect x="1231" y="155" width="1" height="28" fill="#089981"/>
<rect x="1228" y="162" width="7" height="21" fill="#089981"/>
<rect x="1240" y="146" width="1" height="19" fill="#089981"/>
<rect x="1237" y="153" width="7" height="9" fill="#089981"/>
<rect x="1248" y="143" width="1" height="16" fill="#089981"/>
<rect x="1245" y="145" width="7" height="11" fill="#089981"/>
<rect x="1257" y="137" width="1" height="23" fill="#F23645"/>
<rect x="1254" y="145" width="7" height="12" fill="#F23645"/>
<rect x="1265" y="140" width="1" height="35" fill="#F23645"/>
<rect x="1262" y="156" width="7" height="19" fill="#F23645"/>
<rect x="1274" y="157" width="1" height="52" fill="#F23645"/>
<rect x="1271" y="174" width="7" height="26" fill="#F23645"/>
<rect x="1282" y="135" width="1" height="67" fill="#089981"/>
<rect x="1279" y="148" width="7" height="52" fill="#089981"/>
<rect x="1291" y="110" width="1" height="40" fill="#089981"/>
<rect x="1288" y="121" width="7" height="29" fill="#089981"/>
<rect x="1299" y="99" width="1" height="45" fill="#089981"/>
<rect x="1296" y="106" width="7" height="14" fill="#089981"/>
<rect x="1307" y="82" width="1" height="93" fill="#F23645"/>
<rect x="1304" y="107" width="7" height="61" fill="#F23645"/>
<rect x="1316" y="134" width="1" height="34" fill="#089981"/>
<rect x="1313" y="135" width="7" height="33" fill="#089981"/>
<rect x="1324" y="128" width="1" height="39" fill="#F23645"/>
<rect x="1321" y="144" width="7" height="15" fill="#F23645"/>
<rect x="1333" y="157" width="1" height="33" fill="#F23645"/>
<rect x="1330" y="157" width="7" height="28" fill="#F23645"/>
<rect x="1341" y="178" width="1" height="22" fill="#089981"/>
<rect x="1338" y="182" width="7" height="3" fill="#089981"/>
<rect x="1350" y="178" width="1" height="23" fill="#F23645"/>
<rect x="1347" y="182" width="7" height="19" fill="#F23645"/>
<rect x="1358" y="196" width="1" height="32" fill="#F23645"/>
<rect x="1355" y="200" width="7" height="25" fill="#F23645"/>
<rect x="1367" y="220" width="1" height="5" fill="#089981"/>
<rect x="1364" y="221" width="7" height="2" fill="#089981"/>
<rect x="1375" y="217" width="1" height="18" fill="#089981"/>
<rect x="1372" y="219" width="7" height="3" fill="#089981"/>
<rect x="1384" y="218" width="1" height="23" fill="#F23645"/>
<rect x="1381" y="218" width="7" height="15" fill="#F23645"/>
<rect x="1392" y="226" width="1" height="21" fill="#089981"/>
<rect x="1389" y="230" width="7" height="3" fill="#089981"/>
<rect x="1401" y="229" width="1" height="8" fill="#F23645"/>
<rect x="1398" y="232" width="7" height="4" fill="#F23645"/>
<rect x="1409" y="224" width="1" height="20" fill="#F23645"/>
<rect x="1406" y="235" width="7" height="9" fill="#F23645"/>
<rect x="1418" y="221" width="1" height="25" fill="#F23645"/>
<rect x="1415" y="221" width="7" height="15" fill="#F23645"/>
<rect x="1426" y="229" width="1" height="10" fill="#F23645"/>
<rect x="1423" y="235" width="7" height="4" fill="#F23645"/>
<rect x="1435" y="228" width="1" height="14" fill="#089981"/>
<rect x="1432" y="232" width="7" height="7" fill="#089981"/>
<rect x="1443" y="226" width="1" height="9" fill="#F23645"/>
<rect x="1440" y="232" width="7" height="2" fill="#F23645"/>
<rect x="1452" y="223" width="1" height="16" fill="#F23645"/>
<rect x="1449" y="233" width="7" height="2" fill="#F23645"/>
</g>
<line x1="13" y1="234.5" x2="1541" y2="234.5" stroke="#F23645" stroke-width="1" stroke-dasharray="1,2" shape-rendering="crispEdges"/>
</g>
<g clip-path="url(#cr)">
<line x1="14" y1="584" x2="1541" y2="584" stroke="#6A3FB8" stroke-width="2" stroke-dasharray="2,4"/>
<polyline points="13.0,509.0 17.5,514.4 25.5,503.3 34.5,524.2 42.5,544.4 51.5,563.5 59.5,562.1 68.5,569.5 76.5,557.8 85.5,555.4 93.5,549.4 102.5,549.0 110.5,555.4 119.5,535.7 127.5,536.3 136.5,531.9 144.5,532.9 153.5,539.3 161.5,556.4 170.5,561.5 178.5,566.9 187.5,566.9 195.5,559.4 204.5,547.0 212.5,551.0 221.5,566.9 229.5,556.4 238.5,531.3 246.5,519.6 255.5,524.2 263.5,520.8 272.5,514.8 280.5,517.2 289.5,529.3 297.5,534.3 305.5,520.2 314.5,515.8 322.5,514.8 331.5,508.1 339.5,523.2 348.5,505.7 356.5,526.2 365.5,530.3 373.5,529.3 382.5,556.8 390.5,528.3 399.5,519.2 407.5,506.1 416.5,511.6 424.5,519.6 433.5,526.2 441.5,539.7 450.5,550.4 458.5,536.3 467.5,529.7 475.5,525.2 484.5,540.9 492.5,518.6 501.5,522.8 509.5,538.9 518.5,545.0 526.5,542.3 535.5,548.0 543.5,552.0 552.5,559.4 560.5,561.5 569.5,554.4 577.5,563.1 586.5,567.5 594.5,555.4 603.5,563.9 611.5,564.1 620.5,559.0 628.5,537.9 637.5,544.0 645.5,570.5 654.5,556.4 662.5,558.8 671.5,560.9 679.5,554.8 688.5,542.9 696.5,515.6 705.5,503.5 713.5,503.5 722.5,532.7 730.5,528.9 739.5,558.8 747.5,559.8 756.5,551.4 764.5,543.8 773.5,526.9 781.5,527.9 790.5,545.0 798.5,552.4 806.5,524.6 815.5,528.9 823.5,554.4 832.5,544.0 840.5,554.8 849.5,562.5 857.5,571.1 866.5,541.3 874.5,550.4 883.5,552.4 891.5,545.8 900.5,539.3 908.5,561.9 917.5,556.4 925.5,549.0 934.5,558.8 942.5,553.4 951.5,547.8 959.5,553.4 968.5,554.0 976.5,563.1 985.5,573.1 993.5,574.1 1002.5,576.5 1010.5,556.8 1019.5,568.5 1027.5,557.4 1036.5,553.4 1044.5,553.0 1053.5,558.8 1061.5,550.8 1070.5,545.0 1078.5,532.3 1087.5,529.3 1095.5,565.9 1104.5,572.1 1112.5,576.5 1121.5,564.5 1129.5,573.1 1138.5,580.2 1146.5,588.6 1155.5,600.1 1163.5,598.7 1172.5,600.3 1180.5,581.0 1189.5,565.1 1197.5,559.4 1206.5,578.6 1214.5,580.2 1223.5,569.1 1231.5,547.8 1240.5,539.3 1248.5,532.3 1257.5,546.4 1265.5,563.1 1274.5,584.0 1282.5,540.9 1291.5,524.2 1299.5,516.6 1307.5,559.0 1316.5,541.9 1324.5,554.8 1333.5,567.1 1341.5,566.5 1350.5,576.1 1358.5,586.0 1367.5,584.0 1375.5,583.0 1384.5,589.2 1392.5,588.0 1401.5,590.6 1409.5,594.7 1418.5,586.6 1426.5,588.6 1435.5,582.6 1443.5,583.2 1452.5,584.0" fill="none" stroke="#7E57C2" stroke-width="2.4" stroke-linejoin="round" stroke-linecap="round"/>
</g>
<text x="1551.6" y="250.1" font-size="15.65" fill="#131722" text-anchor="start" font-weight="normal" >19.50000</text>
<text x="1551.6" y="301.1" font-size="15.65" fill="#131722" text-anchor="start" font-weight="normal" >19.00000</text>
<text x="1551.6" y="352.1" font-size="15.65" fill="#131722" text-anchor="start" font-weight="normal" >18.50000</text>
<text x="1551.6" y="403.1" font-size="15.65" fill="#131722" text-anchor="start" font-weight="normal" >18.00000</text>
<text x="1551.6" y="455.1" font-size="15.65" fill="#131722" text-anchor="start" font-weight="normal" >17.50000</text>
<text x="1551.6" y="532.1" font-size="15.65" fill="#131722" text-anchor="start" font-weight="normal" >60.00</text>
<path d="M1541.0 18.1h79.7a2.5 2.5 0 0 1 2.5 2.5v18.1a2.5 2.5 0 0 1 -2.5 2.5h-79.7z" fill="#2A2E39"/>
<text x="1551.6" y="35.0" font-size="15.65" fill="#FFFFFF" text-anchor="start" font-weight="normal" stroke="#FFFFFF" stroke-width="0.3">21.46750</text>
<path d="M1541.0 40.5h79.7a2.5 2.5 0 0 1 2.5 2.5v18.1a2.5 2.5 0 0 1 -2.5 2.5h-79.7z" fill="#2A2E39"/>
<text x="1551.6" y="57.4" font-size="15.65" fill="#FFFFFF" text-anchor="start" font-weight="normal" stroke="#FFFFFF" stroke-width="0.3">21.29349</text>
<path d="M1541.0 62.9h79.7a2.5 2.5 0 0 1 2.5 2.5v18.1a2.5 2.5 0 0 1 -2.5 2.5h-79.7z" fill="#2A2E39"/>
<text x="1551.6" y="79.8" font-size="15.65" fill="#FFFFFF" text-anchor="start" font-weight="normal" stroke="#FFFFFF" stroke-width="0.3">20.99990</text>
<path d="M1541.0 85.3h79.7a2.5 2.5 0 0 1 2.5 2.5v17.5a2.5 2.5 0 0 1 -2.5 2.5h-79.7z" fill="#2A2E39"/>
<text x="1551.6" y="102.1" font-size="15.65" fill="#FFFFFF" text-anchor="start" font-weight="normal" stroke="#FFFFFF" stroke-width="0.3">20.93928</text>
<path d="M1541.0 136.3h79.7a2.5 2.5 0 0 1 2.5 2.5v17.5a2.5 2.5 0 0 1 -2.5 2.5h-79.7z" fill="#2196F3"/>
<text x="1551.6" y="153.2" font-size="15.65" fill="#FFFFFF" text-anchor="start" font-weight="normal" stroke="#FFFFFF" stroke-width="0.3">20.29760</text>
<path d="M1541.0 158.8h79.7a2.5 2.5 0 0 1 2.5 2.5v17.5a2.5 2.5 0 0 1 -2.5 2.5h-79.7z" fill="#FF6D00"/>
<text x="1551.6" y="175.7" font-size="15.65" fill="#FFFFFF" text-anchor="start" font-weight="normal" stroke="#FFFFFF" stroke-width="0.3">20.12685</text>
<path d="M1541.0 181.3h79.7a2.5 2.5 0 0 1 2.5 2.5v17.5a2.5 2.5 0 0 1 -2.5 2.5h-79.7z" fill="#26C6DA"/>
<text x="1551.6" y="198.2" font-size="15.65" fill="#131722" text-anchor="start" font-weight="normal" stroke="#131722" stroke-width="0.3">20.00955</text>
<path d="M1541.0 223.1h79.7a2.5 2.5 0 0 1 2.5 2.5v17.5a2.5 2.5 0 0 1 -2.5 2.5h-79.7z" fill="#F23645"/>
<text x="1551.6" y="239.9" font-size="15.65" fill="#FFFFFF" text-anchor="start" font-weight="normal" stroke="#FFFFFF" stroke-width="0.3">19.59039</text>
<path d="M1541.0 573.1h54.5a2.5 2.5 0 0 1 2.5 2.5v17.5a2.5 2.5 0 0 1 -2.5 2.5h-54.5z" fill="#7E57C2"/>
<text x="1551.6" y="590.0" font-size="15.65" fill="#FFFFFF" text-anchor="start" font-weight="normal" stroke="#FFFFFF" stroke-width="0.3">39.55</text>
<text x="1531.5" y="33.9" font-size="14.90" fill="#131722" text-anchor="end" font-weight="normal" >March '22</text>
<text x="153.1" y="647.5" font-size="15.00" fill="#131722" text-anchor="middle" font-weight="normal" >Oct</text>
<text x="348.1" y="647.5" font-size="15.00" fill="#131722" text-anchor="middle" font-weight="normal" >Nov</text>
<text x="526.1" y="647.5" font-size="15.00" fill="#131722" text-anchor="middle" font-weight="normal" >Dec</text>
<text x="713.1" y="647.5" font-size="15.00" fill="#131722" text-anchor="middle" font-weight="bold" >2025</text>
<text x="908.1" y="647.5" font-size="15.00" fill="#131722" text-anchor="middle" font-weight="normal" >Feb</text>
<text x="1078.1" y="647.5" font-size="15.00" fill="#131722" text-anchor="middle" font-weight="normal" >Mar</text>
<text x="1257.1" y="647.5" font-size="15.00" fill="#131722" text-anchor="middle" font-weight="normal" >Apr</text>
<text x="1443.1" y="647.5" font-size="15.00" fill="#131722" text-anchor="middle" font-weight="normal" >May</text>
<text x="23.5" y="37.9" font-size="14.40" fill="#131722" text-anchor="start" font-weight="normal" >USD/MXN, 1D</text>
<text x="127.3" y="37.9" font-size="14.40" fill="#131722" text-anchor="start" font-weight="normal" >O</text>
<text x="139.3" y="37.9" font-size="14.80" fill="#F23645" text-anchor="start" font-weight="normal" >19.60185</text>
<text x="210.6" y="37.9" font-size="14.40" fill="#131722" text-anchor="start" font-weight="normal" >H</text>
<text x="222.2" y="37.9" font-size="14.80" fill="#F23645" text-anchor="start" font-weight="normal" >19.70302</text>
<text x="294.6" y="37.9" font-size="14.40" fill="#131722" text-anchor="start" font-weight="normal" >L</text>
<text x="303.7" y="37.9" font-size="14.80" fill="#F23645" text-anchor="start" font-weight="normal" >19.54820</text>
<text x="375.2" y="37.9" font-size="14.40" fill="#131722" text-anchor="start" font-weight="normal" >C</text>
<text x="385.1" y="37.9" font-size="14.80" fill="#F23645" text-anchor="start" font-weight="normal" >19.59039</text>
<text x="458.6" y="37.9" font-size="14.80" fill="#F23645" text-anchor="start" font-weight="normal" >−0.01311</text>
<text x="527.0" y="37.9" font-size="14.80" fill="#F23645" text-anchor="start" font-weight="normal" >(−0.07%)</text>
<text x="23.6" y="60.7" font-size="14.40" fill="#131722" text-anchor="start" font-weight="normal" textLength="315" lengthAdjust="spacing">Moving Average Triple (50, 100, 200, Simple)</text>
<text x="347.6" y="60.7" font-size="15.15" fill="#FF6D00" text-anchor="start" font-weight="normal" >20.12685</text>
<text x="420.8" y="60.7" font-size="15.15" fill="#2196F3" text-anchor="start" font-weight="normal" >20.29760</text>
<text x="494.0" y="60.7" font-size="15.15" fill="#00BCD4" text-anchor="start" font-weight="normal" >20.00955</text>
<text x="23.5" y="508.7" font-size="14.40" fill="#131722" text-anchor="start" font-weight="normal" >RSI (14)</text>
<text x="87.5" y="508.7" font-size="15.20" fill="#7E57C2" text-anchor="start" font-weight="normal" >39.55</text>
<g transform="translate(13.1,674.1) scale(0.715,0.72)" fill="#131722"><path d="M14 22H7V11H0V4h14v18zM28 22h-8l7.5-18h8L28 22z"/><circle cx="20" cy="8" r="4"/></g>
<text x="43.0" y="689.8" font-size="16.80" fill="#131722" text-anchor="start" font-weight="normal" stroke="#131722" stroke-width="0.5">TradingView</text>
</svg>
</body></html>
